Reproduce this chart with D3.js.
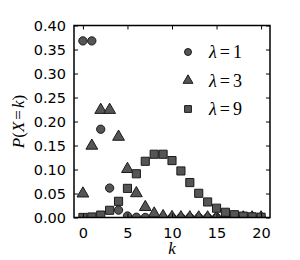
<!DOCTYPE html>
<html>
<head>
<meta charset="utf-8">
<script src="https://cdn.jsdelivr.net/npm/d3@7"></script>
<style>
  body { margin: 0; background: #fff; }
  svg { display: block; }
</style>
</head>
<body>
<div id="chart"></div>
<script>
const width = 300;
const height = 260;
const margin = ({top: 25.5, right: 30, bottom: 42.5, left: 74});

// k values and Poisson probabilities
const kValues = [0,1,2,3,4,5,6,7,8,9,10,11,12,13,14,15,16,17,18,19,20];
const pLambda1 = [0.3679,0.3679,0.1839,0.0613,0.0153,0.0031,0.0005,0.0001,0,0,0,0,0,0,0,0,0,0,0,0,0];
const pLambda3 = [0.0498,0.1494,0.2240,0.2240,0.1680,0.1008,0.0504,0.0216,0.0081,0.0027,0.0008,0.0002,0.0001,0,0,0,0,0,0,0,0];
const pLambda9 = [0.0001,0.0011,0.0050,0.0150,0.0337,0.0607,0.0911,0.1171,0.1318,0.1318,0.1186,0.0970,0.0728,0.0504,0.0324,0.0194,0.0109,0.0058,0.0029,0.0014,0.0006];
const seriesNames = ["1", "3", "9"];
const symbols = [d3.symbolCircle, d3.symbolTriangle, d3.symbolSquare];
const symSizes = [54, 60, 66];
const xTicks = [0, 5, 10, 15, 20];
const yTicks = [0, 0.05, 0.10, 0.15, 0.20, 0.25, 0.30, 0.35, 0.40];

const series = [pLambda1, pLambda3, pLambda9];

const x = d3.scaleLinear().domain([-1, 21]).range([margin.left, width - margin.right]);
const y = d3.scaleLinear().domain([0, 0.4]).range([height - margin.bottom, margin.top]);

const svg = d3.select("#chart").append("svg")
    .attr("width", width)
    .attr("height", height);

svg.append("defs").append("clipPath")
    .attr("id", "clip")
  .append("rect")
    .attr("x", x.range()[0])
    .attr("y", y.range()[1])
    .attr("width", x.range()[1] - x.range()[0])
    .attr("height", y.range()[0] - y.range()[1]);

// markers
const marks = svg.append("g").attr("clip-path", "url(#clip)");
series.forEach((vals, i) => {
  marks.append("g")
      .selectAll("path")
      .data(kValues)
      .join("path")
      .attr("transform", (k, j) => `translate(${x(k)},${y(vals[j])})`)
      .attr("d", d3.symbol(symbols[i], symSizes[i]))
      .attr("fill", "#555")
      .attr("stroke", "#1a1a1a")
      .attr("stroke-width", 1);
});

// axes, ticks pointing inward on all four sides
const tickFont = "DejaVu Sans, sans-serif";
const fmt = d3.format(".2f");

function styleAxis(g) {
  g.select(".domain").remove();
  g.selectAll(".tick line").attr("stroke", "#000").attr("stroke-width", 1);
  g.selectAll(".tick text").attr("font-family", tickFont).attr("font-size", 14.5).attr("fill", "#000");
}

svg.append("g")
    .attr("transform", `translate(0,${y.range()[0]})`)
    .call(d3.axisBottom(x).tickValues(xTicks).tickSizeInner(-4).tickSizeOuter(0).tickPadding(10))
    .call(styleAxis);

svg.append("g")
    .attr("transform", `translate(0,${y.range()[1]})`)
    .call(d3.axisTop(x).tickValues(xTicks).tickSizeInner(-4).tickSizeOuter(0).tickFormat(""))
    .call(styleAxis);

svg.append("g")
    .attr("transform", `translate(${x.range()[0]},0)`)
    .call(d3.axisLeft(y).tickValues(yTicks).tickFormat(fmt).tickSizeInner(-4).tickSizeOuter(0).tickPadding(8))
    .call(styleAxis);

svg.append("g")
    .attr("transform", `translate(${x.range()[1]},0)`)
    .call(d3.axisRight(y).tickValues(yTicks).tickSizeInner(-4).tickSizeOuter(0).tickFormat(""))
    .call(styleAxis);

// frame
svg.append("rect")
    .attr("x", x.range()[0])
    .attr("y", y.range()[1])
    .attr("width", x.range()[1] - x.range()[0])
    .attr("height", y.range()[0] - y.range()[1])
    .attr("fill", "none")
    .attr("stroke", "#000")
    .attr("stroke-width", 1.5);

// axis labels
const serif = "Liberation Serif, DejaVu Serif, serif";
svg.append("text")
    .attr("x", (x.range()[0] + x.range()[1]) / 2)
    .attr("y", 254)
    .attr("text-anchor", "middle")
    .attr("font-family", serif)
    .attr("font-style", "italic")
    .attr("font-size", 17)
    .text("k");

const ylab = svg.append("text")
    .attr("transform", `translate(24,${(y.range()[0] + y.range()[1]) / 2}) rotate(-90)`)
    .attr("text-anchor", "middle")
    .attr("font-family", serif)
    .attr("font-size", 17);
ylab.append("tspan").attr("font-style", "italic").text("P");
ylab.append("tspan").text("(");
ylab.append("tspan").attr("font-style", "italic").text("X");
ylab.append("tspan").attr("dx", 2).text("=");
ylab.append("tspan").attr("dx", 2).attr("font-style", "italic").text("k");
ylab.append("tspan").text(")");

// legend
const legend = svg.append("g")
    .selectAll("g")
    .data(seriesNames)
    .join("g")
    .attr("transform", (d, i) => `translate(188,${52 + i * 28.5})`);

legend.append("path")
    .attr("d", (d, i) => d3.symbol(symbols[i], symSizes[i] * 0.7)())
    .attr("fill", "#555")
    .attr("stroke", "#1a1a1a")
    .attr("stroke-width", 1);

const lt = legend.append("text")
    .attr("x", 21)
    .attr("dy", "0.35em")
    .attr("font-family", serif)
    .attr("font-size", 18);
lt.append("tspan").attr("font-style", "italic").text("λ");
lt.append("tspan").attr("dx", 3).text("=");
lt.append("tspan").attr("dx", 3).text(d => d);
</script>
</body>
</html>
